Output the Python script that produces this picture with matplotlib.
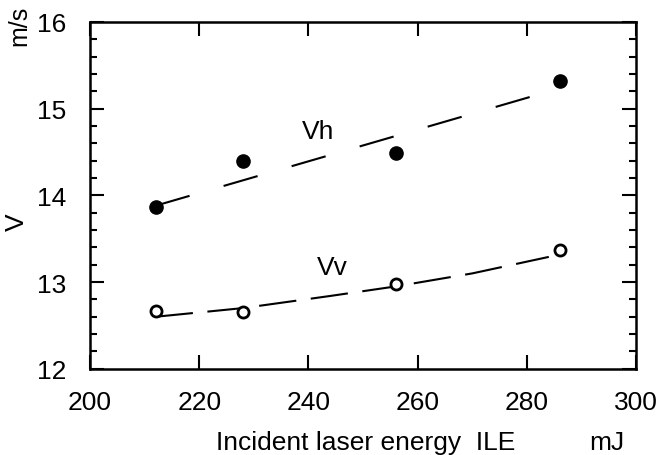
import matplotlib
matplotlib.use("Agg")
import matplotlib.pyplot as plt
from matplotlib.ticker import MultipleLocator

plt.rcParams['font.family'] = ['Liberation Sans', 'DejaVu Sans']

# Data
ile = [212, 228, 256, 286]
vh = [13.86, 14.39, 14.49, 15.32]
vv = [12.67, 12.66, 12.98, 13.37]

fit_vh_x = [212, 282]
fit_vh_y = [13.88, 15.16]
fit_vv_x = [212, 228, 244, 256, 270, 284]
fit_vv_y = [12.60, 12.70, 12.84, 12.95, 13.10, 13.29]

fig = plt.figure(figsize=(6.62, 4.56), dpi=100)
ax = fig.add_axes([0.136, 0.189, 0.825, 0.761])

ax.plot(fit_vh_x, fit_vh_y, color='black', lw=1.5, dashes=(17, 17))
ax.plot(fit_vv_x, fit_vv_y, color='black', lw=1.5, dashes=(18, 7))
ax.plot(ile, vh, 'o', color='black', ms=9.5)
ax.plot(ile, vv, 'o', mfc='white', mec='black', mew=2, ms=8)

ax.text(241.8, 14.74, 'Vh', fontsize=19, ha='center', va='center')
ax.text(244.3, 13.17, 'Vv', fontsize=19, ha='center', va='center')

ax.set_xlim(200, 300)
ax.set_ylim(12, 16)
ax.xaxis.set_major_locator(MultipleLocator(20))
ax.yaxis.set_major_locator(MultipleLocator(1))
ax.yaxis.set_minor_locator(MultipleLocator(0.2))
ax.tick_params(axis='both', which='major', direction='in', length=10, width=1.5,
               labelsize=19, top=True, right=True)
ax.tick_params(axis='x', which='major', pad=15)
ax.tick_params(axis='y', which='major', pad=17)
ax.tick_params(axis='y', which='minor', direction='in', length=5, width=1.5,
               left=True, right=True)
ax.tick_params(axis='x', which='minor', bottom=False, top=False)
for s in ax.spines.values():
    s.set_linewidth(1.8)

fig.text(0.552, 0.013, 'Incident laser energy  ILE', fontsize=19, ha='center', va='baseline')
fig.text(0.916, 0.013, 'mJ', fontsize=19, ha='center', va='baseline')
fig.text(0.026, 0.512, 'V', fontsize=19, rotation=90, ha='center', va='center')
fig.text(0.029, 0.943, 'm/s', fontsize=18, rotation=90, ha='center', va='center')

fig.savefig('out.png', dpi=100)
